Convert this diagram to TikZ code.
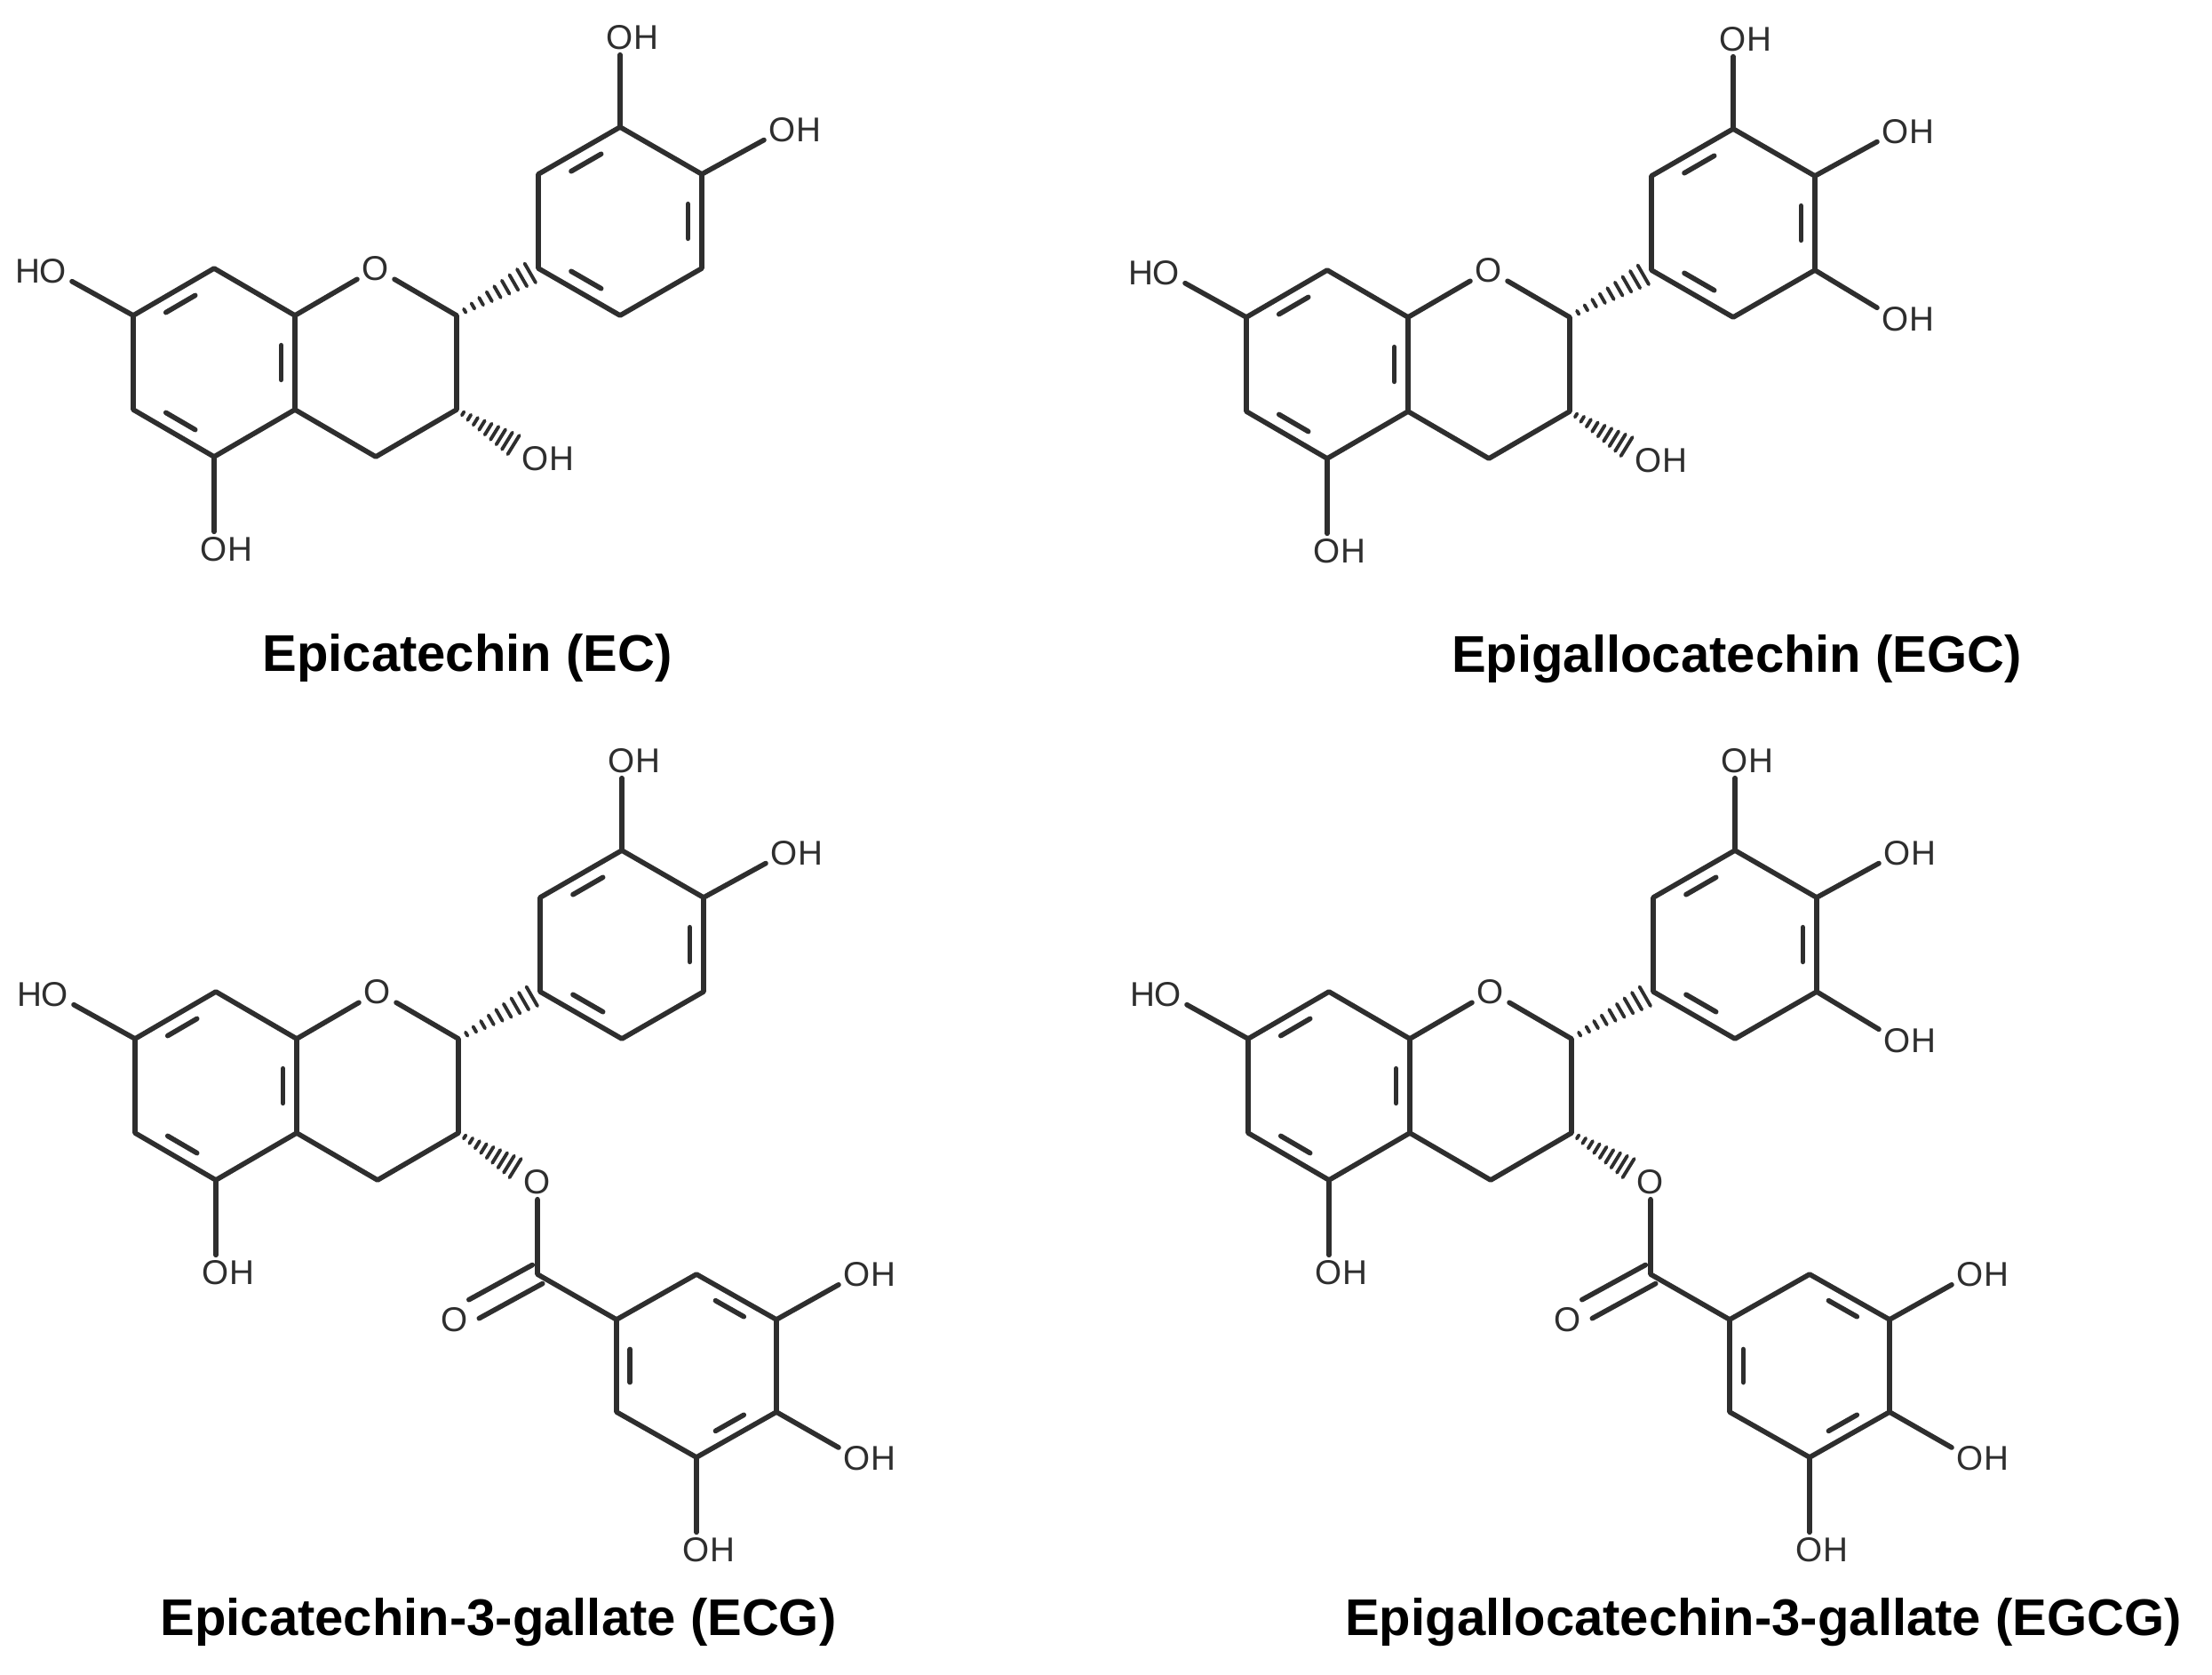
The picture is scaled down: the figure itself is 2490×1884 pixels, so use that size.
\documentclass[tikz,border=0pt]{standalone}
\usepackage{fontspec}
\setmainfont{Liberation Sans}
\usetikzlibrary{calc}
\definecolor{bondc}{HTML}{2E2E2E}
\tikzset{
  bond/.style={line width=1.6pt,draw=bondc,line join=round,line cap=round},
  dbl/.style={bond,shorten <=7pt,shorten >=7pt},
  atom/.style={inner sep=1.5pt,text=bondc,font=\fontsize{11}{13}\selectfont},
  title/.style={inner sep=0pt,text=black,font=\bfseries\fontsize{16.5}{20}\selectfont}
}
\newcommand\hashb[2]{\foreach \t in {0.1,0.2,...,0.95}{\pgfmathsetmacro\ww{\t*3.6+0.3}
  \draw[bond,line width=1.1pt] ($(#1)!\t!(#2)!\ww pt!90:(#2)$) -- ($(#1)!\t!(#2)!\ww pt!-90:(#2)$);}}
% #1 = 1 for gallo B ring, #2 = 1 for gallate ester
\newcommand\catmol[2]{%
  \coordinate (c7) at (150,355); \coordinate (c8) at (241,302); \coordinate (c8a) at (332,355);
  \coordinate (c4a) at (332,461); \coordinate (c5) at (241,514); \coordinate (c6) at (150,461);
  \coordinate (ac) at (241,408);
  \node[atom] (o1) at (423,302) {O};
  \coordinate (c2) at (514,355); \coordinate (c3) at (514,461); \coordinate (c4) at (423,514);
  \coordinate (b1) at (606,302); \coordinate (b2) at (606,196); \coordinate (b3) at (698,143);
  \coordinate (b4) at (790,196); \coordinate (b5) at (790,302); \coordinate (b6) at (698,355);
  \coordinate (bc) at (698,249);
  \draw[bond] (c7)--(c8)--(c8a)--(c4a)--(c5)--(c6)--cycle;
  \draw[dbl] ($(c7)!0.17!(ac)$) -- ($(c8)!0.17!(ac)$);
  \draw[dbl] ($(c8a)!0.17!(ac)$) -- ($(c4a)!0.17!(ac)$);
  \draw[dbl] ($(c5)!0.17!(ac)$) -- ($(c6)!0.17!(ac)$);
  \draw[bond] (c8a)--(o1)--(c2)--(c3)--(c4)--(c4a);
  \draw[bond] (b1)--(b2)--(b3)--(b4)--(b5)--(b6)--cycle;
  \draw[dbl] ($(b2)!0.17!(bc)$) -- ($(b3)!0.17!(bc)$);
  \draw[dbl] ($(b4)!0.17!(bc)$) -- ($(b5)!0.17!(bc)$);
  \draw[dbl] ($(b6)!0.17!(bc)$) -- ($(b1)!0.17!(bc)$);
  \hashb{c2}{b1}
  \node[atom] (ho7) at (60,305) {\llap{H}O};
  \node[atom] (oh5) at (241,618) {O\rlap{H}};
  \node[atom] (oh3p) at (698,42) {O\rlap{H}};
  \node[atom] (oh4p) at (881,146) {O\rlap{H}};
  \draw[bond] (c7)--(ho7); \draw[bond] (c5)--(oh5);
  \draw[bond] (b3)--(oh3p); \draw[bond] (b4)--(oh4p);
  \ifnum#1=1
    \node[atom] (oh5p) at (881,357) {O\rlap{H}};
    \draw[bond] (b5)--(oh5p);
  \fi
  \ifnum#2=1
    \node[atom] (eo) at (603,516) {O};
    \coordinate (h3) at ($(c3)!0.8!(eo)$);
    \hashb{c3}{h3}
    \coordinate (cc) at (603,620);
    \node[atom] (co) at (510,671) {O};
    \coordinate (g1) at (692,671); \coordinate (g2) at (782,620); \coordinate (g3) at (872,671);
    \coordinate (g4) at (872,775); \coordinate (g5) at (782,826); \coordinate (g6) at (692,775);
    \coordinate (gc) at (782,723);
    \draw[bond] (eo)--(cc)--(g1);
    \draw[bond,shorten >=7pt] ($(cc)!3.4pt!90:(co.center)$) -- ($(co.center)!3.4pt!-90:(cc)$);
    \draw[bond,shorten >=7pt] ($(cc)!3.4pt!-90:(co.center)$) -- ($(co.center)!3.4pt!90:(cc)$);
    \draw[bond] (g1)--(g2)--(g3)--(g4)--(g5)--(g6)--cycle;
    \draw[dbl] ($(g2)!0.17!(gc)$) -- ($(g3)!0.17!(gc)$);
    \draw[dbl] ($(g4)!0.17!(gc)$) -- ($(g5)!0.17!(gc)$);
    \draw[dbl] ($(g6)!0.17!(gc)$) -- ($(g1)!0.17!(gc)$);
    \node[atom] (goh3) at (963,620) {O\rlap{H}};
    \node[atom] (goh4) at (963,827) {O\rlap{H}};
    \node[atom] (goh5) at (782,930) {O\rlap{H}};
    \draw[bond] (g3)--(goh3); \draw[bond] (g4)--(goh4); \draw[bond] (g5)--(goh5);
  \else
    \node[atom] (oh3) at (603,516) {O\rlap{H}};
    \coordinate (h3) at ($(c3)!0.8!(oh3)$);
    \hashb{c3}{h3}
  \fi
}
\begin{document}
\begin{tikzpicture}[x=0.01cm,y=-0.01cm]
  \useasboundingbox[fill=white] (0,0) rectangle (2490,1884);
  \begin{scope}[name prefix=ec-]\catmol{0}{0}\end{scope}
  \begin{scope}[shift={(1253,2)},name prefix=egc-]\catmol{1}{0}\end{scope}
  \begin{scope}[shift={(2,814)},name prefix=ecg-]\catmol{0}{1}\end{scope}
  \begin{scope}[shift={(1255,814)},name prefix=egcg-]\catmol{1}{1}\end{scope}
  \node[title] (t1) at (526,740) {Epicatechin (EC)};
  \node[title] (t2) at (1955,742) {Epigallocatechin (EGC)};
  \node[title] (t3) at (561,1826) {Epicatechin-3-gallate (ECG)};
  \node[title] (t4) at (1985,1826) {Epigallocatechin-3-gallate (EGCG)};
\end{tikzpicture}
\end{document}
